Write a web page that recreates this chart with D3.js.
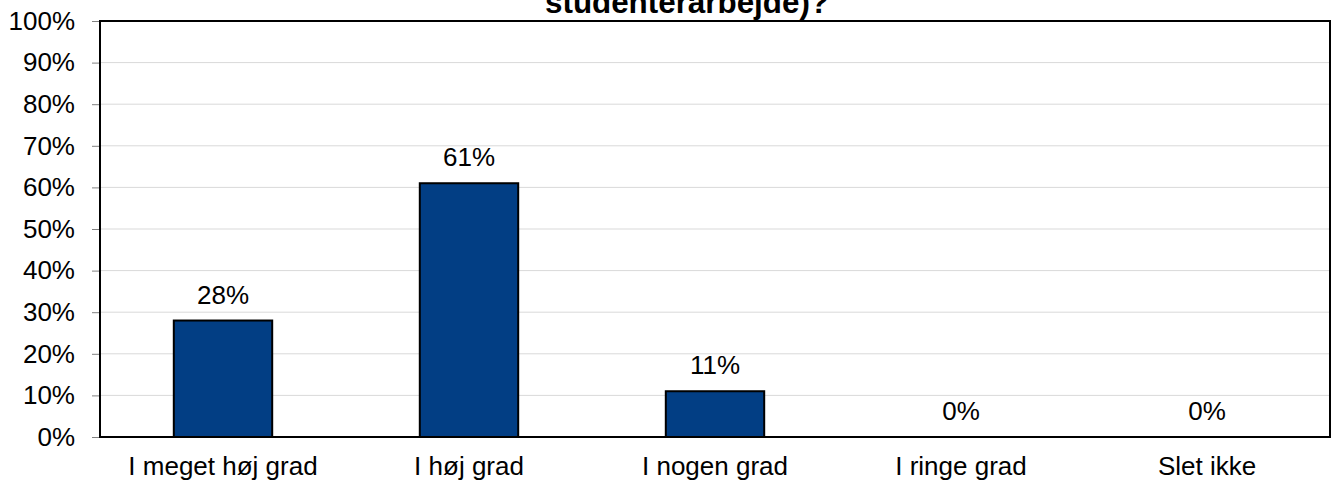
<!DOCTYPE html>
<html>
<head>
<meta charset="utf-8">
<script src="https://cdn.jsdelivr.net/npm/d3@7"></script>
<style>
  body { margin: 0; background: #fff; }
  svg text { font-family: "Liberation Sans", Arial, sans-serif; fill: #000; }
</style>
</head>
<body>
<svg width="1332" height="483"></svg>
<script>
// chart data
var categories = ["I meget høj grad", "I høj grad", "I nogen grad", "I ringe grad", "Slet ikke"];
var values = [28, 61, 11, 0, 0];
var yTicks = [0, 10, 20, 30, 40, 50, 60, 70, 80, 90, 100];
var titleText = "studenterarbejde)?";

var svg = d3.select("svg"),
	plotLeft = 100,
	plotRight = 1330,
	plotTop = 21,
	plotBottom = 437,
	fontSize = 26;

var xScale = d3.scaleBand().domain(categories).range([plotLeft, plotRight]).padding(0),
	yScale = d3.scaleLinear().domain([0, 100]).range([plotBottom, plotTop]);

var barWidth = xScale.bandwidth() * 0.4;

// title (only the last line is visible)
svg.append("text")
   .attr("x", 687)
   .attr("y", 13)
   .attr("text-anchor", "middle")
   .attr("font-weight", "bold")
   .attr("font-size", 31)
   .attr("textLength", 284)
   .attr("lengthAdjust", "spacingAndGlyphs")
   .text(titleText);

// gridlines
svg.append("g")
   .selectAll("line")
   .data(yTicks)
   .enter().append("line")
   .attr("x1", plotLeft)
   .attr("x2", plotRight)
   .attr("y1", function(d) { return yScale(d); })
   .attr("y2", function(d) { return yScale(d); })
   .attr("stroke", "#d9d9d9")
   .attr("stroke-width", 1);

// y axis
var yAxis = svg.append("g")
   .attr("transform", "translate(" + plotLeft + ",0)")
   .call(d3.axisLeft(yScale).tickValues(yTicks).tickSize(8).tickPadding(17)
     .tickFormat(function(d) { return d + "%"; }));
yAxis.select(".domain").remove();
yAxis.selectAll(".tick line").attr("stroke", "#808080");
yAxis.selectAll(".tick text")
   .attr("font-size", fontSize)
   .attr("font-family", "Liberation Sans, Arial, sans-serif")
   .attr("fill", "#000");

// bars
svg.append("g")
   .selectAll("rect")
   .data(values)
   .enter().append("rect")
   .attr("x", function(d, i) { return xScale(categories[i]) + (xScale.bandwidth() - barWidth) / 2; })
   .attr("y", function(d) { return yScale(d); })
   .attr("width", barWidth)
   .attr("height", function(d) { return plotBottom - yScale(d); })
   .attr("fill", "#023e84")
   .attr("stroke", "#000")
   .attr("stroke-width", 2);

// value labels
svg.append("g")
   .selectAll("text")
   .data(values)
   .enter().append("text")
   .attr("x", function(d, i) { return xScale(categories[i]) + xScale.bandwidth() / 2; })
   .attr("y", function(d) { return yScale(d) - 17; })
   .attr("text-anchor", "middle")
   .attr("font-size", fontSize)
   .text(function(d) { return d + "%"; });

// plot frame
svg.append("rect")
   .attr("x", plotLeft)
   .attr("y", plotTop)
   .attr("width", plotRight - plotLeft)
   .attr("height", plotBottom - plotTop)
   .attr("fill", "none")
   .attr("stroke", "#000")
   .attr("stroke-width", 2);

// x axis labels
var xAxis = svg.append("g")
   .attr("transform", "translate(0," + plotBottom + ")")
   .call(d3.axisBottom(xScale).tickSize(0).tickPadding(20));
xAxis.select(".domain").remove();
xAxis.selectAll(".tick text")
   .attr("font-size", fontSize)
   .attr("font-family", "Liberation Sans, Arial, sans-serif")
   .attr("fill", "#000");
</script>
</body>
</html>
